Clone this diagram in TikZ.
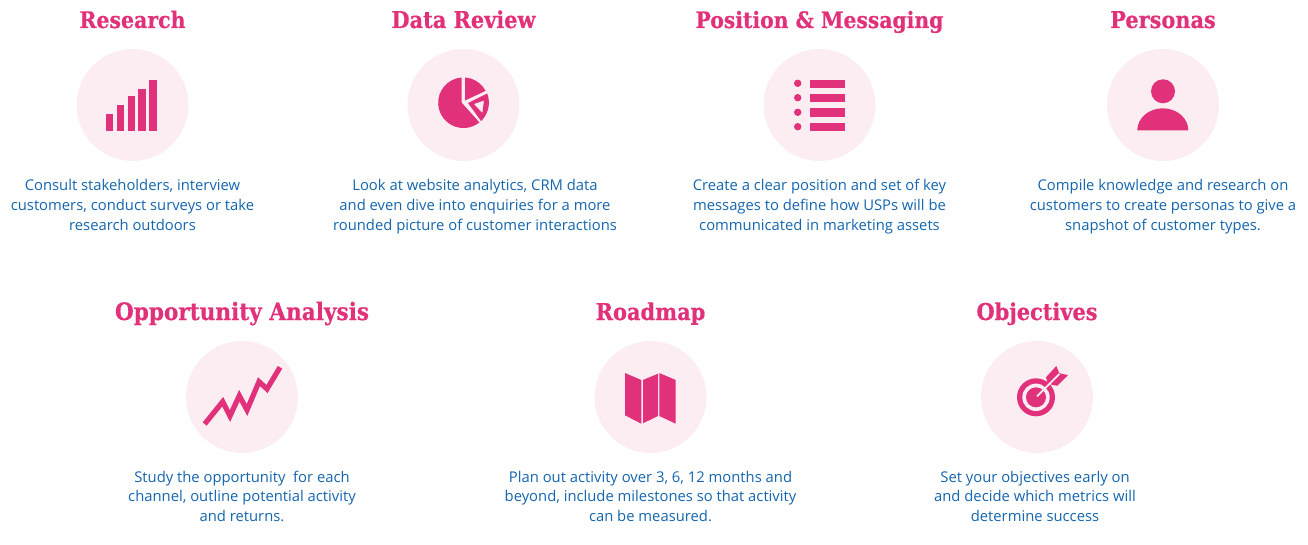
\documentclass[tikz,border=0pt]{standalone}
\usepackage{fontspec}
\setmainfont{Open Sans}
\newfontfamily\headfont[FakeBold=0.5]{DejaVu Serif Condensed Bold}
\definecolor{pinkmain}{HTML}{E0317A}
\definecolor{pinklight}{HTML}{FBEDF2}
\definecolor{bodyblue}{HTML}{1465AE}
\tikzset{
  titletext/.style={text=pinkmain,font=\headfont\fontsize{#1}{28}\selectfont,inner sep=0pt,anchor=base},
  titletext/.default=23.2,
  bodytext/.style={text=bodyblue,font=\fontsize{14.8}{20}\selectfont,align=center,inner sep=0pt,anchor=base},
  bodytextb/.style={bodytext,font=\fontsize{14.8}{19.5}\selectfont},
  iconcircle/.style={circle,fill=pinklight,minimum size=112pt,inner sep=0pt}
}
\begin{document}
\begin{tikzpicture}[x=1pt,y=1pt]
\useasboundingbox (0,0) rectangle (1308,544);
% row 1
\node[titletext=22.8] (t1) at (132.5,516) {Research};
\node[titletext] (t2) at (463.5,516) {Data Review};
\node[titletext=22.6] (t3) at (819.5,516) {Position \& Messaging};
\node[titletext] (t4) at (1163,516) {Personas};
\node[iconcircle] (c1) at (132.5,439) {};
\node[iconcircle] (c2) at (463.5,439) {};
\node[iconcircle] (c3) at (819.5,439) {};
\node[iconcircle] (c4) at (1163,439) {};
\node[bodytext] (b1) at (132.5,313) {Consult stakeholders, interview\\customers, conduct surveys or take\\research outdoors};
\node[bodytext] (b2) at (475,313) {Look at website analytics, CRM data\\and even dive into enquiries for a more\\rounded picture of customer interactions};
\node[bodytext] (b3) at (819.5,313) {Create a clear position and set of key\\messages to define how USPs will be\\communicated in marketing assets};
\node[bodytext] (b4) at (1163,313) {Compile knowledge and research on\\customers to create personas to give a\\snapshot of customer types.};
% row 2
\node[titletext=24] (t5) at (242,224) {Opportunity Analysis};
\node[titletext] (t6) at (650.5,224) {Roadmap};
\node[titletext] (t7) at (1037,224) {Objectives};
\node[iconcircle] (c5) at (242,147) {};
\node[iconcircle] (c6) at (650.5,147) {};
\node[iconcircle] (c7) at (1037,147) {};
\node[bodytextb] (b5) at (242,23) {Study the opportunity\ \ for each\\channel, outline potential activity\\and returns.};
\node[bodytextb] (b6) at (650.5,23) {Plan out activity over 3, 6, 12 months and\\beyond, include milestones so that activity\\can be measured.};
\node[bodytextb] (b7) at (1035,23) {Set your objectives early on\\and decide which metrics will\\determine success};
% bars
\fill[pinkmain] (106,413.3) rectangle (113.3,430);
\fill[pinkmain] (117,413.3) rectangle (124.3,439);
\fill[pinkmain] (127.7,413.3) rectangle (135,448);
\fill[pinkmain] (138.3,413.3) rectangle (146,455);
\fill[pinkmain] (149.3,413.3) rectangle (156.7,464);
% pie
\fill[pinkmain] (461.7,466.5) arc[start angle=94,end angle=309,radius=25.3] -- (461.7,441.3) -- cycle;
\fill[pinkmain] (465,466.5) arc[start angle=86,end angle=28,radius=25.3] -- (465,443.5) -- cycle;
\fill[pinkmain,even odd rule] (468,441) -- (487.2,450.5) arc[start angle=21,end angle=-46,radius=25.6] -- cycle
  (473.8,440) -- (484,443.5) -- (482.3,431) -- cycle;
% list
\foreach \y/\a/\b in {460.7/464/456.3, 446.3/450/442, 431.7/435.7/427.3, 417.3/421/413}{
  \fill[pinkmain] (797.7,\y) circle[radius=3.7];
  \fill[pinkmain] (810,\b) rectangle (845,\a);
}
% person
\fill[pinkmain] (1163,452.7) circle[radius=12];
\fill[pinkmain] (1137.3,413.7) arc[start angle=180,end angle=0,x radius=25.5,y radius=22] -- cycle;
% chart
\draw[pinkmain,line width=5.2pt,miter limit=4] (204.7,120) -- (222.7,142.3) -- (230,128) -- (239.3,148.3) -- (247,134) -- (259,162.3) -- (267,155) -- (280,176.7);
% map
\fill[pinkmain] (625,171) -- (641.3,164) -- (641.3,120.3) -- (625,128.7) -- cycle;
\fill[pinkmain] (643,164) -- (658,170.3) -- (658,128) -- (643,120.7) -- cycle;
\fill[pinkmain] (659.3,171) -- (675.7,164) -- (675.7,120.3) -- (659.3,128) -- cycle;
% target
\fill[pinkmain] (1036,146.7) circle[radius=19];
\fill[pinklight] (1036,146.7) circle[radius=13.7];
\fill[pinkmain] (1036,146.7) circle[radius=10];
\fill[pinkmain] (1056.3,178) -- (1046,166.7) -- (1047.5,161) -- (1052.3,159) -- (1057.3,158.3) -- (1068,169) -- (1059.3,170.7) -- cycle;
\draw[pinklight,line width=1.8pt] (1037,147.7) -- (1059.3,170);
\end{tikzpicture}
\end{document}
